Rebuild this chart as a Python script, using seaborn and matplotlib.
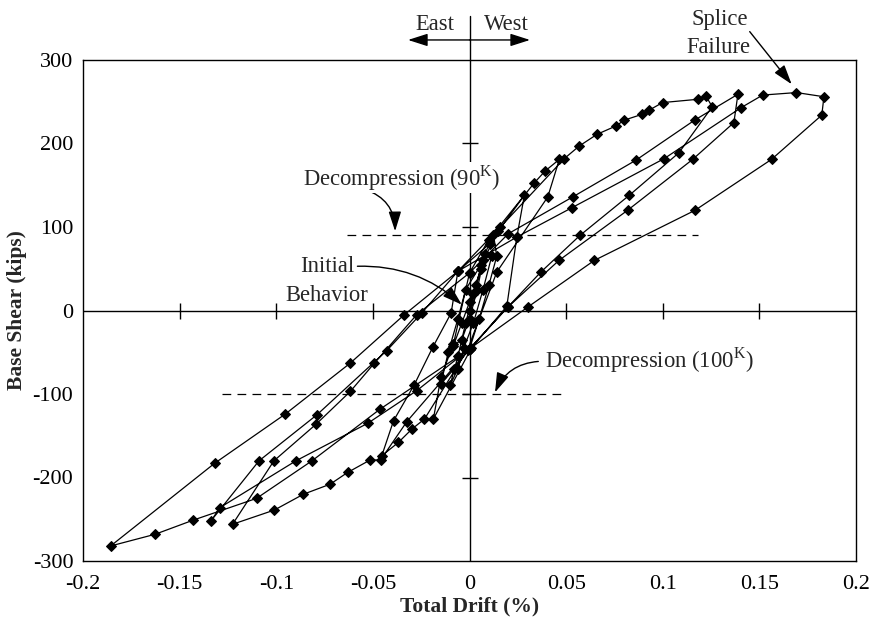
import numpy as np
import pandas as pd
import matplotlib
matplotlib.use("Agg")
import matplotlib.pyplot as plt
import seaborn as sns

# Measured base shear (kips) vs. total drift (%), in loading order
drift = [
    # cycle 1
    0.000, 0.0035, 0.0072, 0.004, 0.000, -0.004, -0.0083, -0.004, 0.000,
    # cycle 2
    0.006, 0.0115, 0.007, 0.002, -0.003, -0.006, -0.010, -0.006, -0.002, 0.002,
    # cycle 3
    0.008, 0.0124, 0.0141, 0.010, 0.005, 0.000, -0.008, -0.0148, -0.011, -0.006, -0.002,
    # cycle 4
    0.006, 0.0149, 0.0284, 0.0245, 0.0193, 0.001, -0.0187, -0.0148, -0.0083, 0.000,
    # cycle 5
    0.010, 0.0336, 0.0391, 0.0465, 0.0405, 0.0141, -0.001, -0.0233, -0.0298, -0.0368,
    -0.0454, -0.0393, -0.0286, -0.019, -0.0095, -0.006,
    # cycle 6
    0.016, 0.0491, 0.0568, 0.066, 0.0758, 0.0801, 0.0894, 0.093, 0.0999, 0.1184,
    0.1223, 0.1256, 0.1084, 0.0827, 0.0572, 0.0369, 0.0198, 0.000,
    -0.0324, -0.046, -0.0514, -0.0631, -0.0721, -0.0859, -0.101, -0.1226,
    -0.1012, -0.0793, -0.0617, -0.0492, -0.0273, 0.000,
    0.0201, 0.0534, 0.0861, 0.1165, 0.1389,
    # cycle 7
    0.1368, 0.1155, 0.0818, 0.0463, 0.0198, 0.000,
    -0.0273, -0.0526, -0.0898, -0.1291, -0.1338,
    -0.1089, -0.079, -0.0428, -0.0247, -0.006,
    0.0245, 0.0529, 0.1008, 0.1406, 0.1517, 0.1692, 0.1834,
    # cycle 8
    0.1823, 0.1563, 0.1167, 0.0646, 0.0301, 0.000,
    -0.0462, -0.0815, -0.1102, -0.1429, -0.1627, -0.1857,
    -0.1319, -0.0953, -0.0617, -0.0337, -0.006, 0.0105,
]
shear = [
    # cycle 1
    0, 30, 61, 25, -10, -35, -42, -15, 10,
    # cycle 2
    50, 65, 25, -15, -45, -70, -89, -55, -15, 20,
    # cycle 3
    68, 91, 65, 30, -10, -46, -70, -88, -50, -10, 25,
    # cycle 4
    55, 95, 138, 88, 5, -45, -130, -80, -40, 45,
    # cycle 5
    85, 153, 167, 181, 136, 46, -47, -130, -142, -158,
    -174, -132, -89, -44, -3, 47,
    # cycle 6
    100, 182, 197, 211, 221, 228, 235, 240, 249, 253,
    257, 244, 189, 138, 90, 46, 4, -46,
    -133, -179, -179, -194, -208, -220, -239, -256,
    -180, -136, -97, -63, -5, 45,
    92, 136, 180, 228, 259,
    # cycle 7
    225, 181, 120, 60, 4, -46,
    -96, -135, -180, -236, -252,
    -180, -125, -48, -3, 47,
    88, 123, 182, 243, 258, 261, 256,
    # cycle 8
    234, 181, 120, 60, 4, -46,
    -118, -180, -225, -251, -268, -282,
    -183, -124, -63, -5, 47, 80,
]

xticks = [-0.2, -0.15, -0.1, -0.05, 0, 0.05, 0.1, 0.15, 0.2]
xticklabels = ["-0.2", "-0.15", "-0.1", "-0.05", "0", "0.05", "0.1", "0.15", "0.2"]
yticks = [-300, -200, -100, 0, 100, 200, 300]
yticklabels = ["-300", "-200", "-100", "0", "100", "200", "300"]

decomp_90 = 90
decomp_100 = -100

sns.set_theme(style="white")
plt.rcParams["font.family"] = ["Liberation Serif", "DejaVu Serif"]
plt.rcParams["mathtext.fontset"] = "custom"
plt.rcParams["mathtext.rm"] = "Liberation Serif"

fig = plt.figure(figsize=(8.8, 6.35), dpi=100)
ax = fig.add_axes([83 / 880, 1 - 561 / 635, (856 - 83) / 880, (561 - 60) / 635])

df = pd.DataFrame({"drift": drift, "shear": shear})
sns.lineplot(data=df, x="drift", y="shear", sort=False, estimator=None,
             color="black", linewidth=0.9, marker="D", markersize=5.3,
             markeredgecolor="black", markerfacecolor="black", ax=ax, zorder=3)

ax.set_xlim(-0.2, 0.2)
ax.set_ylim(-300, 300)
ax.set_xticks(xticks)
ax.set_xticklabels(xticklabels)
ax.set_yticks(yticks)
ax.set_yticklabels(yticklabels)
ax.tick_params(axis="both", length=0, labelsize=16, colors="black")
ax.tick_params(axis="x", pad=10)
ax.tick_params(axis="y", pad=7)
for s in ax.spines.values():
    s.set_color("black")
    s.set_linewidth(1.0)

ax.set_xlabel("Total Drift (%)", fontsize=15.5, fontweight="bold", labelpad=2)
ax.set_ylabel("Base Shear (kips)", fontsize=15.5, fontweight="bold", labelpad=4)

# zero axes with cross ticks
ax.axhline(0, color="black", lw=1.0, zorder=2)
ax.plot([0, 0], [-300, 300], color="black", lw=1.0, zorder=2)
ax.plot([0, 0], [300, 353], color="black", lw=1.0, clip_on=False)
inner_x = [t for t in xticks if abs(t) not in (0, 0.2)]
inner_y = [t for t in yticks if abs(t) not in (0, 300)]
ax.plot(inner_x, [0] * len(inner_x), ls="none", marker="|", ms=11, mew=1.0, color="black", zorder=2)
ax.plot([0] * len(inner_y), inner_y, ls="none", marker="_", ms=11, mew=1.0, color="black", zorder=2)

# decompression levels
ax.plot([-0.0635, 0.1182], [decomp_90, decomp_90], color="black", lw=0.9, dashes=(7, 5), zorder=1)
ax.plot([-0.128, 0.0503], [decomp_100, decomp_100], color="black", lw=0.9, dashes=(7, 5), zorder=1)

fs = 16.3
head = "-|>,head_length=1.0,head_width=0.32"
# East / West
ax.text(-0.0178, 343, "East", ha="center", va="center", fontsize=fs)
ax.text(0.0189, 343, "West", ha="center", va="center", fontsize=fs)
for end in (-0.0318, 0.0313):
    ax.annotate("", xy=(end, 324), xytext=(0.0, 324), annotation_clip=False,
                arrowprops=dict(arrowstyle=head, color="black", lw=1.0, shrinkA=0, shrinkB=0))

# Splice failure
ax.text(0.1296, 349, "Splice", ha="center", va="center", fontsize=fs)
ax.text(0.1288, 315, "Failure", ha="center", va="center", fontsize=fs)
ax.annotate("", xy=(0.1667, 271), xytext=(0.1450, 334), annotation_clip=False,
            arrowprops=dict(arrowstyle=head, color="black", lw=1.0, shrinkA=0, shrinkB=0))

# Decompression (90K)
ax.text(-0.0861, 159, "Decompression (90$^{\\mathrm{K}}$)", ha="left", va="center", fontsize=fs,
        zorder=4, bbox=dict(facecolor="white", edgecolor="none", pad=0.5))
ax.annotate("", xy=(-0.0385, 95), xytext=(-0.0540, 145),
            arrowprops=dict(arrowstyle=head, color="black", lw=1.0,
                            shrinkA=0, shrinkB=0, connectionstyle="arc3,rad=-0.35"))

# Initial behavior
ax.text(-0.0738, 53, "Initial", ha="center", va="center", fontsize=fs)
ax.text(-0.0738, 18, "Behavior", ha="center", va="center", fontsize=fs)
ax.annotate("", xy=(-0.004, 7), xytext=(-0.0580, 53),
            arrowprops=dict(arrowstyle=head, color="black", lw=1.0,
                            shrinkA=0, shrinkB=0, connectionstyle="arc3,rad=-0.2"))

# Decompression (100K)
ax.text(0.0391, -59, "Decompression (100$^{\\mathrm{K}}$)", ha="left", va="center", fontsize=fs)
ax.annotate("", xy=(0.0132, -98), xytext=(0.0356, -61),
            arrowprops=dict(arrowstyle=head, color="black", lw=1.0,
                            shrinkA=0, shrinkB=0, connectionstyle="arc3,rad=0.3"))

fig.savefig("out.png", dpi=100)
